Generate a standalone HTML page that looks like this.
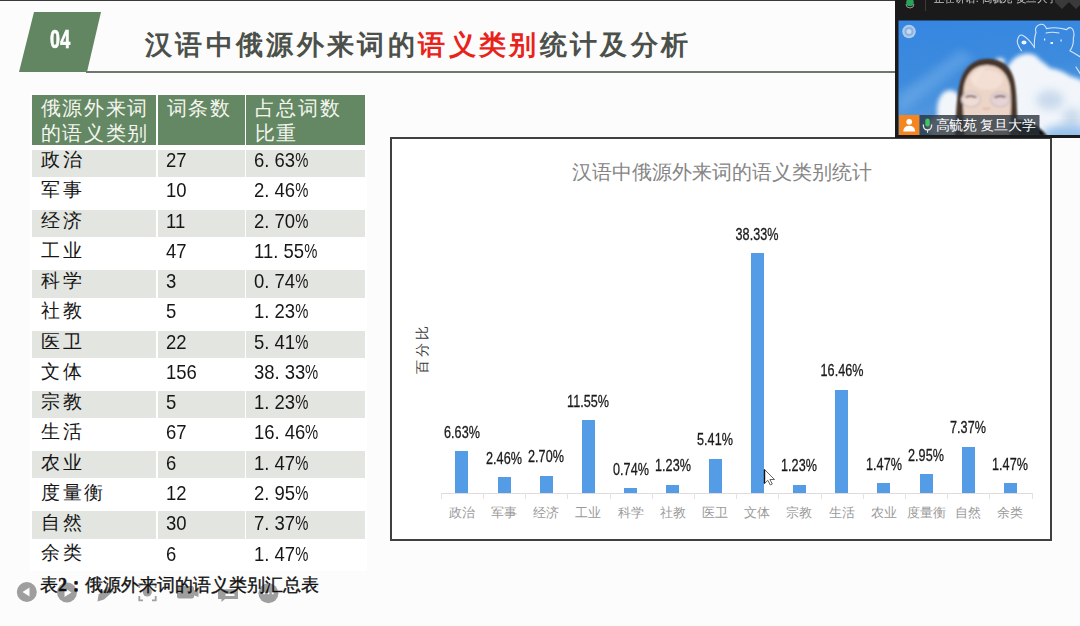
<!DOCTYPE html>
<html><head><meta charset="utf-8">
<style>
*{margin:0;padding:0;box-sizing:border-box}
html,body{width:1080px;height:626px;overflow:hidden}
body{position:relative;background:#fdfcfc;font-family:"Liberation Sans",sans-serif;color:#222}
.abs{position:absolute}
#topline{left:0;top:0;width:895px;height:1px;background:#3a3a3a}
#hline{left:86px;top:70.5px;width:809px;height:2px;background:#70786e}
#tag{left:0;top:0;width:120px;height:80px}
#title{left:145px;top:29px;font-size:27px;letter-spacing:3.35px;color:#4b514a;white-space:nowrap;font-weight:bold;line-height:32px}
#title .r{color:#e8231b}
/* table */
.cell{position:absolute;white-space:nowrap}
.hd{background:#648764;color:#f4f6ee;font-size:19.5px;letter-spacing:1.7px;line-height:25px;padding:0.5px 0 0 8.5px}
.gr{background:#e3e5e1}
.tx{position:absolute;color:#161616;white-space:nowrap;line-height:24px;height:24px}
.cn{font-size:19px;letter-spacing:2.6px}
.pc{display:inline-block;transform:scaleX(0.8);transform-origin:0 0}
.dg{font-size:21px;transform:scaleX(0.88);transform-origin:0 0}
#caption{left:40px;top:572px;font-size:18.2px;color:#111;-webkit-text-stroke:0.35px #111;white-space:nowrap;font-family:"Liberation Serif",serif;letter-spacing:0px}
/* chart */
#chart{left:390px;top:137px;width:662px;height:404px;border:2px solid #404040;background:#fff}
#ctitle{left:572px;top:159px;font-size:19.7px;color:#858585;white-space:nowrap;letter-spacing:0px;font-family:"Liberation Serif",serif;font-weight:normal}
.bar{position:absolute;background:#559ce6;width:13px}
.lbl{position:absolute;font-size:16.5px;color:#1a1a1a;-webkit-text-stroke:0.3px #1a1a1a;white-space:nowrap;transform:scaleX(0.765);transform-origin:50% 0;text-align:center;width:60px;line-height:16px}
.cat{position:absolute;font-size:13px;color:#9a9a9a;white-space:nowrap;text-align:center;width:50px;line-height:16px}
#axis{left:440.5px;top:492.8px;width:591px;height:1.2px;background:#e0dada}
.tick{position:absolute;top:493px;width:1px;height:5.5px;background:#e6e2e2}
#ylab{left:397px;top:344px;width:50px;height:16px;font-size:14px;color:#3a3a3a;transform:rotate(-90deg);letter-spacing:3px;text-indent:3px;white-space:nowrap;text-align:center;line-height:16px}
/* video */
#vid{left:895px;top:0;width:185px;height:138px;background:#1c1c1c;overflow:hidden}
</style></head>
<body>
<div id="topline" class="abs"></div>
<div id="hline" class="abs"></div>
<svg id="tag" class="abs" viewBox="0 0 120 80" width="120" height="80">
  <polygon points="34,12 101,12 87,72 19,72" fill="#628662"/>
</svg>
<div class="abs" style="left:50px;top:25.5px;font-size:25.5px;font-weight:bold;color:#fff;-webkit-text-stroke:0.7px #fff;transform:scaleX(0.7);transform-origin:0 0;line-height:26px;letter-spacing:0.5px">04</div>
<div id="title" class="abs">汉语中俄源外来词的<span class="r">语义类别</span>统计及分析</div>

<!-- table -->
<div class="abs" style="left:30px;top:93px;width:337px;height:478px;background:#fff"></div>
<div id="table">
<div class="cell hd" style="left:32px;top:95px;width:124px;height:50px">俄源外来词<br>的语义类别</div>
<div class="cell hd" style="left:158px;top:95px;width:87px;height:50px">词条数</div>
<div class="cell hd" style="left:246px;top:95px;width:119px;height:50px">占总词数<br>比重</div>
<div class="cell gr" style="left:32px;top:149.6px;width:124px;height:27.4px"></div>
<div class="cell gr" style="left:158px;top:149.6px;width:86.5px;height:27.4px"></div>
<div class="cell gr" style="left:246.2px;top:149.6px;width:118.8px;height:27.4px"></div>
<div class="tx cn" style="left:41px;top:148.1px">政治</div>
<div class="tx dg" style="left:166px;top:148.2px">27</div>
<div class="tx dg" style="left:254px;top:148.2px">6. 63<span class="pc">%</span></div>
<div class="tx cn" style="left:41px;top:178.3px">军事</div>
<div class="tx dg" style="left:166px;top:178.4px">10</div>
<div class="tx dg" style="left:254px;top:178.4px">2. 46<span class="pc">%</span></div>
<div class="cell gr" style="left:32px;top:209.9px;width:124px;height:27.4px"></div>
<div class="cell gr" style="left:158px;top:209.9px;width:86.5px;height:27.4px"></div>
<div class="cell gr" style="left:246.2px;top:209.9px;width:118.8px;height:27.4px"></div>
<div class="tx cn" style="left:41px;top:208.6px">经济</div>
<div class="tx dg" style="left:166px;top:208.7px">11</div>
<div class="tx dg" style="left:254px;top:208.7px">2. 70<span class="pc">%</span></div>
<div class="tx cn" style="left:41px;top:238.8px">工业</div>
<div class="tx dg" style="left:166px;top:238.9px">47</div>
<div class="tx dg" style="left:254px;top:238.9px">11. 55<span class="pc">%</span></div>
<div class="cell gr" style="left:32px;top:270.2px;width:124px;height:27.4px"></div>
<div class="cell gr" style="left:158px;top:270.2px;width:86.5px;height:27.4px"></div>
<div class="cell gr" style="left:246.2px;top:270.2px;width:118.8px;height:27.4px"></div>
<div class="tx cn" style="left:41px;top:269.1px">科学</div>
<div class="tx dg" style="left:166px;top:269.2px">3</div>
<div class="tx dg" style="left:254px;top:269.2px">0. 74<span class="pc">%</span></div>
<div class="tx cn" style="left:41px;top:299.3px">社教</div>
<div class="tx dg" style="left:166px;top:299.4px">5</div>
<div class="tx dg" style="left:254px;top:299.4px">1. 23<span class="pc">%</span></div>
<div class="cell gr" style="left:32px;top:330.5px;width:124px;height:27.4px"></div>
<div class="cell gr" style="left:158px;top:330.5px;width:86.5px;height:27.4px"></div>
<div class="cell gr" style="left:246.2px;top:330.5px;width:118.8px;height:27.4px"></div>
<div class="tx cn" style="left:41px;top:329.6px">医卫</div>
<div class="tx dg" style="left:166px;top:329.7px">22</div>
<div class="tx dg" style="left:254px;top:329.7px">5. 41<span class="pc">%</span></div>
<div class="tx cn" style="left:41px;top:359.8px">文体</div>
<div class="tx dg" style="left:166px;top:359.9px">156</div>
<div class="tx dg" style="left:254px;top:359.9px">38. 33<span class="pc">%</span></div>
<div class="cell gr" style="left:32px;top:390.8px;width:124px;height:27.4px"></div>
<div class="cell gr" style="left:158px;top:390.8px;width:86.5px;height:27.4px"></div>
<div class="cell gr" style="left:246.2px;top:390.8px;width:118.8px;height:27.4px"></div>
<div class="tx cn" style="left:41px;top:390.1px">宗教</div>
<div class="tx dg" style="left:166px;top:390.2px">5</div>
<div class="tx dg" style="left:254px;top:390.2px">1. 23<span class="pc">%</span></div>
<div class="tx cn" style="left:41px;top:420.3px">生活</div>
<div class="tx dg" style="left:166px;top:420.4px">67</div>
<div class="tx dg" style="left:254px;top:420.4px">16. 46<span class="pc">%</span></div>
<div class="cell gr" style="left:32px;top:451.1px;width:124px;height:27.4px"></div>
<div class="cell gr" style="left:158px;top:451.1px;width:86.5px;height:27.4px"></div>
<div class="cell gr" style="left:246.2px;top:451.1px;width:118.8px;height:27.4px"></div>
<div class="tx cn" style="left:41px;top:450.6px">农业</div>
<div class="tx dg" style="left:166px;top:450.7px">6</div>
<div class="tx dg" style="left:254px;top:450.7px">1. 47<span class="pc">%</span></div>
<div class="tx cn" style="left:41px;top:480.8px">度量衡</div>
<div class="tx dg" style="left:166px;top:480.9px">12</div>
<div class="tx dg" style="left:254px;top:480.9px">2. 95<span class="pc">%</span></div>
<div class="cell gr" style="left:32px;top:511.4px;width:124px;height:27.4px"></div>
<div class="cell gr" style="left:158px;top:511.4px;width:86.5px;height:27.4px"></div>
<div class="cell gr" style="left:246.2px;top:511.4px;width:118.8px;height:27.4px"></div>
<div class="tx cn" style="left:41px;top:511.1px">自然</div>
<div class="tx dg" style="left:166px;top:511.2px">30</div>
<div class="tx dg" style="left:254px;top:511.2px">7. 37<span class="pc">%</span></div>
<div class="tx cn" style="left:41px;top:541.4px">余类</div>
<div class="tx dg" style="left:166px;top:541.5px">6</div>
<div class="tx dg" style="left:254px;top:541.5px">1. 47<span class="pc">%</span></div>
</div><!--/table-->

<!-- controls -->
<svg class="abs" style="left:0;top:570px" width="300" height="40" viewBox="0 570 300 40">
  <g opacity="0.85" fill="#8e8e8e">
    <circle cx="26.8" cy="592" r="10"/>
    <circle cx="67" cy="592.5" r="10"/>
    <path d="M97.5 601.5 L98.5 594.5 L108 586.5 L113.5 591 L104 599.5 Z"/>
    <circle cx="147.3" cy="592" r="4.5"/>
    <g fill="none" stroke="#8e8e8e" stroke-width="1.8">
      <path d="M139.3 588 V584 H143"/><path d="M152 584 H155.7 V588"/>
      <path d="M139.3 596 V600.3 H143"/><path d="M152 600.3 H155.7 V596"/>
    </g>
    <rect x="177" y="586" width="17" height="12.5" rx="2"/>
    <path d="M193 591 L198.5 588 V597 L193 595 Z"/>
    <path d="M218 589.3 H238 V599 H225 L221.5 602 V599 H218 Z"/>
    <circle cx="268.4" cy="593.3" r="10"/>
  </g>
  <g fill="#fff" opacity="0.95">
    <path d="M22.5 592 L29.5 587.5 V596.5 Z"/>
    <path d="M71.5 592.5 L64.5 588 V597 Z"/>
    <rect x="225.5" y="594" width="9" height="2"/>
    <circle cx="264" cy="593.3" r="1.1"/><circle cx="268.4" cy="593.3" r="1.1"/><circle cx="272.8" cy="593.3" r="1.1"/>
  </g>
</svg>
<div id="caption" class="abs">表<b>2：</b>俄源外来词的语义类别汇总表</div>

<!-- chart -->
<div id="chart" class="abs"></div>
<div id="ctitle" class="abs">汉语中俄源外来词的语义类别统计</div>
<div id="ylab" class="abs">百分比</div>
<div id="axis" class="abs"></div>
<div id="bars">
<div class="bar" style="left:455.3px;top:451.2px;height:41.4px"></div>
<div class="lbl" style="left:431.8px;top:423.7px">6.63%</div>
<div class="cat" style="left:436.8px;top:505.3px">政治</div>
<div class="bar" style="left:497.5px;top:477.2px;height:15.4px"></div>
<div class="lbl" style="left:474.0px;top:449.7px">2.46%</div>
<div class="cat" style="left:479.0px;top:505.3px">军事</div>
<div class="bar" style="left:539.7px;top:475.7px;height:16.9px"></div>
<div class="lbl" style="left:516.2px;top:448.2px">2.70%</div>
<div class="cat" style="left:521.2px;top:505.3px">经济</div>
<div class="bar" style="left:581.9px;top:420.4px;height:72.2px"></div>
<div class="lbl" style="left:558.4px;top:392.9px">11.55%</div>
<div class="cat" style="left:563.4px;top:505.3px">工业</div>
<div class="bar" style="left:624.1px;top:488.0px;height:4.6px"></div>
<div class="lbl" style="left:600.6px;top:460.5px">0.74%</div>
<div class="cat" style="left:605.6px;top:505.3px">科学</div>
<div class="bar" style="left:666.3px;top:484.9px;height:7.7px"></div>
<div class="lbl" style="left:642.8px;top:457.4px">1.23%</div>
<div class="cat" style="left:647.8px;top:505.3px">社教</div>
<div class="bar" style="left:708.5px;top:458.8px;height:33.8px"></div>
<div class="lbl" style="left:685.0px;top:431.3px">5.41%</div>
<div class="cat" style="left:690.0px;top:505.3px">医卫</div>
<div class="bar" style="left:750.7px;top:253.0px;height:239.6px"></div>
<div class="lbl" style="left:727.2px;top:225.5px">38.33%</div>
<div class="cat" style="left:732.2px;top:505.3px">文体</div>
<div class="bar" style="left:792.9px;top:484.9px;height:7.7px"></div>
<div class="lbl" style="left:769.4px;top:457.4px">1.23%</div>
<div class="cat" style="left:774.4px;top:505.3px">宗教</div>
<div class="bar" style="left:835.1px;top:389.7px;height:102.9px"></div>
<div class="lbl" style="left:811.6px;top:362.2px">16.46%</div>
<div class="cat" style="left:816.6px;top:505.3px">生活</div>
<div class="bar" style="left:877.3px;top:483.4px;height:9.2px"></div>
<div class="lbl" style="left:853.8px;top:455.9px">1.47%</div>
<div class="cat" style="left:858.8px;top:505.3px">农业</div>
<div class="bar" style="left:919.5px;top:474.2px;height:18.4px"></div>
<div class="lbl" style="left:896.0px;top:446.7px">2.95%</div>
<div class="cat" style="left:901.0px;top:505.3px">度量衡</div>
<div class="bar" style="left:961.7px;top:446.5px;height:46.1px"></div>
<div class="lbl" style="left:938.2px;top:419.0px">7.37%</div>
<div class="cat" style="left:943.2px;top:505.3px">自然</div>
<div class="bar" style="left:1003.9px;top:483.4px;height:9.2px"></div>
<div class="lbl" style="left:980.4px;top:455.9px">1.47%</div>
<div class="cat" style="left:985.4px;top:505.3px">余类</div>
<div class="tick" style="left:440.7px"></div>
<div class="tick" style="left:482.9px"></div>
<div class="tick" style="left:525.1px"></div>
<div class="tick" style="left:567.3px"></div>
<div class="tick" style="left:609.5px"></div>
<div class="tick" style="left:651.7px"></div>
<div class="tick" style="left:693.9px"></div>
<div class="tick" style="left:736.1px"></div>
<div class="tick" style="left:778.3px"></div>
<div class="tick" style="left:820.5px"></div>
<div class="tick" style="left:862.7px"></div>
<div class="tick" style="left:904.9px"></div>
<div class="tick" style="left:947.1px"></div>
<div class="tick" style="left:989.3px"></div>
<div class="tick" style="left:1031.5px"></div>
</div><!--/bars-->

<!-- cursor -->
<svg class="abs" style="left:763px;top:467.5px" width="14" height="20" viewBox="0 0 14 20">
  <path d="M1.5 1.5 L1.5 15.5 L4.8 12.3 L7.3 17 L9.3 16 L6.9 11.5 L11.5 11.5 Z" fill="#fff" stroke="#555" stroke-width="0.9"/><path d="M1.5 1.5 L1.5 15.5" stroke="#111" stroke-width="1.4"/>
</svg>
<!-- video -->
<div id="vid" class="abs">
<svg width="185" height="138" viewBox="895 0 185 138" style="position:absolute;left:0;top:0">
  <defs>
    <linearGradient id="sky" x1="0" y1="0" x2="0.2" y2="1">
      <stop offset="0" stop-color="#3686e2"/>
      <stop offset="0.5" stop-color="#3d8bdd"/>
      <stop offset="1" stop-color="#5c9ee0"/>
    </linearGradient>
    <filter id="blur2" x="-30%" y="-30%" width="160%" height="160%"><feGaussianBlur stdDeviation="2.2"/></filter>
    <filter id="blur3" x="-30%" y="-30%" width="160%" height="160%"><feGaussianBlur stdDeviation="4"/></filter>
    <filter id="blur1" x="-30%" y="-30%" width="160%" height="160%"><feGaussianBlur stdDeviation="0.9"/></filter>
    <clipPath id="vclip"><rect x="898.5" y="20.5" width="182" height="114.5"/></clipPath>
  </defs>
  <rect x="895" y="0" width="185" height="138" fill="#1a1a1a"/>
  <g clip-path="url(#vclip)">
    <rect x="898" y="20" width="183" height="116" fill="url(#sky)"/>
    <g filter="url(#blur3)" opacity="0.35"><path d="M898 95 L960 50 L975 58 L898 115 Z" fill="#8cc0f0"/></g>
    <!-- clouds -->
    <g filter="url(#blur2)" fill="#f2f6fb">
      <path d="M1008 136 L1006 70 Q1012 56 1024 54 Q1034 52 1040 60 Q1046 64 1050 68 Q1062 70 1070 76 Q1078 78 1084 82 L1084 136 Z"/>
      <ellipse cx="950" cy="110" rx="13" ry="20"/>
      <ellipse cx="945" cy="128" rx="18" ry="12"/>
      <ellipse cx="1000" cy="62" rx="5" ry="4"/>
    </g>
    <g filter="url(#blur3)" fill="#b9cfe6" opacity="0.7">
      <ellipse cx="1050" cy="100" rx="14" ry="10"/>
      <ellipse cx="1072" cy="118" rx="10" ry="10"/>
    </g>
    <g filter="url(#blur3)" fill="#8fbbe9" opacity="0.9">
      <ellipse cx="1068" cy="134" rx="26" ry="9"/>
    </g>
    <!-- bear outline -->
    <g fill="none" stroke="#e6f0fc" stroke-width="1.1" stroke-linecap="round" stroke-linejoin="round" opacity="0.9">
      <path d="M1034.4 47.8 Q1034 38 1036 32.5 Q1034 26 1040.7 24.3 Q1045 24 1046.4 28.6 Q1056 26.5 1066.6 29.6 Q1070 26 1072.5 29 Q1075 33 1073.3 38.2 Q1074 45 1069.9 50.7 Q1076 54 1081 57.4"/>
      <path d="M1021.5 50.7 Q1016 43 1017.7 39.2 Q1019 34 1022.5 35.3 Q1028 38 1034 46.8"/>
      <path d="M1046 33 Q1052 31.5 1059 33"/>
      <path d="M1076 67 L1081 75"/>
    </g>
    <g fill="#eef4fc">
      <ellipse cx="1024" cy="42.5" rx="2.5" ry="2"/>
      <rect x="1044" y="38.5" width="1.2" height="2"/>
      <rect x="1060.5" y="39.5" width="1.2" height="2"/>
      <rect x="1050.5" y="42" width="2.5" height="2"/>
    </g>
    <!-- woman -->
    <g filter="url(#blur1)">
      <path d="M1003 136 Q1010 116 1026 121 Q1040 126 1047 136 Z" fill="#0c0a0a"/>
      <path d="M955 136 C956 112 957 88 962 76 C968 63 978 58.8 988 58.8 C999 58.8 1009 64 1013 76 C1018 90 1016 115 1019 136 Z" fill="#46352b"/>
      <path d="M965 136 C963 114 962 96 964.5 84 C968 71 976 65.5 987 65 C998 65.5 1006 71 1009.5 84 C1012 96 1011 116 1009 136 Z" fill="#ecd4c6"/>
      <ellipse cx="987" cy="80" rx="16" ry="10" fill="#f6e4da" opacity="0.7"/>
      <path d="M970 78 Q978 66 988 66 Q980 72 976 84 Z" fill="#f6e6dc" opacity="0.6"/>
      <ellipse cx="971" cy="99.5" rx="9.5" ry="7.5" fill="#efdcd4" stroke="#cbbcc4" stroke-width="1.1"/>
      <ellipse cx="1000" cy="99.5" rx="9.5" ry="7.5" fill="#e6d3d6" stroke="#cbbcc4" stroke-width="1.1"/>
      <path d="M965.5 97 Q971 95 976.5 97.5" stroke="#5e4440" stroke-width="1.6" fill="none"/>
      <path d="M994.5 97.5 Q1000 95 1005.5 97" stroke="#5e4440" stroke-width="1.6" fill="none"/>
      <path d="M983 108 Q986 110 990 108" stroke="#d4a898" stroke-width="1.2" fill="none"/>
    </g>
    <!-- logo -->
    <circle cx="909" cy="31.5" r="6.8" fill="#d4e2f2" opacity="0.75"/>
    <circle cx="909" cy="31.5" r="4.5" fill="#7aa6dc" opacity="0.7"/>
    <circle cx="909" cy="31.5" r="2.5" fill="#e0ebf7" opacity="0.7"/>
    <!-- name bar -->
    <rect x="899" y="115" width="20.5" height="21" fill="#f5851f"/>
    <circle cx="909.2" cy="121.8" r="2.9" fill="#fff"/>
    <path d="M903.2 131.5 Q903.5 125.8 909.2 125.8 Q914.9 125.8 915.2 131.5 Z" fill="#fff"/>
    <rect x="919.5" y="115" width="120" height="21" fill="#28323c" opacity="0.78"/>
    <rect x="925.3" y="118.5" width="4.4" height="8" rx="2.2" fill="#43c464"/>
    <path d="M923.3 124.5 Q923.3 130 927.5 130 Q931.7 130 931.7 124.5" stroke="#e8e8e8" stroke-width="1.3" fill="none"/>
    <rect x="927" y="130" width="1.1" height="2.8" fill="#e8e8e8"/>
  </g>
  <!-- header bar -->
  <circle cx="910" cy="2.5" r="3.8" fill="#2aa35a"/>
  <path d="M906 4 Q906 8 910 8 Q914 8 914 4" stroke="#999" stroke-width="1" fill="none"/>
  <rect x="925" y="0" width="1" height="11" fill="#3c3c3c"/>
  <path d="M1055 2 L1062 9 L1069 2 L1076 9 L1083 2 L1083 -5 L1055 -5 Z" fill="#3a3a3a"/>
</svg>
<div style="position:absolute;left:38.5px;top:-9px;font-size:12px;color:#c8c8c8;white-space:nowrap;line-height:14px;transform:scaleX(0.87);transform-origin:0 0">正在讲话: 高毓苑 复旦大学</div>
<div style="position:absolute;left:40.5px;top:117px;font-size:14px;color:#fff;white-space:nowrap;line-height:17px;letter-spacing:-0.25px">高毓苑 复旦大学</div>
</div>
</body></html>
